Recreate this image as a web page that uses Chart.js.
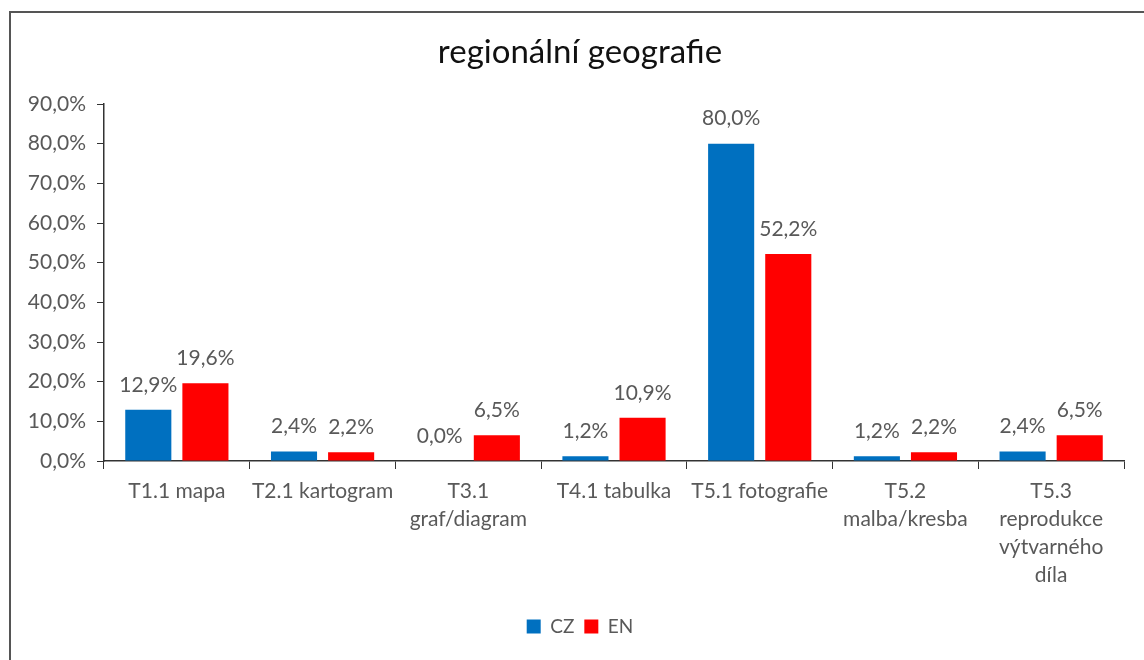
<!DOCTYPE html>
<html>
<head>
<meta charset="utf-8">
<script src="https://cdn.jsdelivr.net/npm/chart.js@4.4.1/dist/chart.umd.min.js"></script>
<style>
  html, body { margin: 0; padding: 0; background: #fff; overflow: hidden; }
  #wrap { position: relative; width: 1144px; height: 660px; }
  #frame { position: absolute; left: 9px; top: 11px; width: 1200px; height: 700px;
           border: 2px solid #555; box-sizing: border-box; pointer-events: none; }
</style>
</head>
<body>
<div id="wrap">
  <canvas id="c" width="1144" height="660"></canvas>
  <div id="frame"></div>
</div>
<script>
const categories = [
  "T1.1 mapa",
  "T2.1 kartogram",
  ["T3.1", "graf/diagram"],
  "T4.1 tabulka",
  "T5.1 fotografie",
  ["T5.2", "malba/kresba"],
  ["T5.3", "reprodukce", "výtvarného", "díla"]
];
const czValues = [12.9, 2.4, 0.0, 1.2, 80.0, 1.2, 2.4];
const enValues = [19.6, 2.2, 6.5, 10.9, 52.2, 2.2, 6.5];
const yMin = 0, yMax = 90, yStep = 10;

const FONT = "Lato";
const GRAY = "#595959";
const fmt = v => v.toFixed(1).replace('.', ',') + '%';

const valueLabels = {
  id: 'valueLabels',
  afterDatasetsDraw(chart) {
    const ctx = chart.ctx;
    ctx.save();
    ctx.font = `21px ${FONT}`;
    ctx.fillStyle = GRAY;
    ctx.textAlign = 'center';
    ctx.textBaseline = 'middle';
    chart.data.datasets.forEach((ds, di) => {
      const meta = chart.getDatasetMeta(di);
      meta.data.forEach((el, i) => {
        ctx.fillText(fmt(ds.data[i]), el.x, el.y - 25);
      });
    });
    ctx.restore();
  }
};

new Chart(document.getElementById('c'), {
  type: 'bar',
  data: {
    labels: categories,
    datasets: [
      { label: 'CZ', data: czValues, backgroundColor: '#0070C0', borderWidth: 0,
        categoryPercentage: 0.784, barPercentage: 0.807 },
      { label: 'EN', data: enValues, backgroundColor: '#FF0000', borderWidth: 0,
        categoryPercentage: 0.784, barPercentage: 0.807 }
    ]
  },
  options: {
    responsive: false,
    animation: false,
    layout: { padding: { left: 16, right: 0, top: 0, bottom: 14 } },
    plugins: {
      title: {
        display: true,
        text: 'regionální geografie',
        color: '#111',
        font: { family: FONT, size: 33, weight: 'normal', lineHeight: 1.2 },
        padding: { top: 32.2, bottom: 32.2 }
      },
      legend: {
        display: true,
        position: 'bottom',
        labels: {
          color: GRAY,
          font: { family: FONT, size: 19 },
          boxWidth: 14, boxHeight: 14, padding: 10
        }
      },
      tooltip: { enabled: false }
    },
    scales: {
      x: {
        grid: { display: true, drawOnChartArea: false, drawTicks: true, tickLength: 8, color: '#333', offset: true },
        border: { display: true, color: '#333', width: 1.5 },
        ticks: { color: GRAY, font: { family: FONT, size: 21, lineHeight: 1.34 }, maxRotation: 0, autoSkip: false, padding: 8 },
        afterFit: s => { s.height = 146; }
      },
      y: {
        min: yMin, max: yMax,
        grid: { display: true, drawOnChartArea: false, drawTicks: true, tickLength: 7, color: '#333' },
        border: { display: true, color: '#333', width: 1.5 },
        ticks: { stepSize: yStep, color: GRAY, font: { family: FONT, size: 21 }, padding: 11, callback: v => fmt(v) },
        afterFit: s => { s.width = 88; }
      },
      y2: {
        position: 'right',
        display: true,
        grid: { display: false, drawTicks: false },
        border: { display: false },
        ticks: { display: false },
        afterFit: s => { s.width = 20; }
      }
    }
  },
  plugins: [valueLabels]
});
</script>
</body>
</html>
